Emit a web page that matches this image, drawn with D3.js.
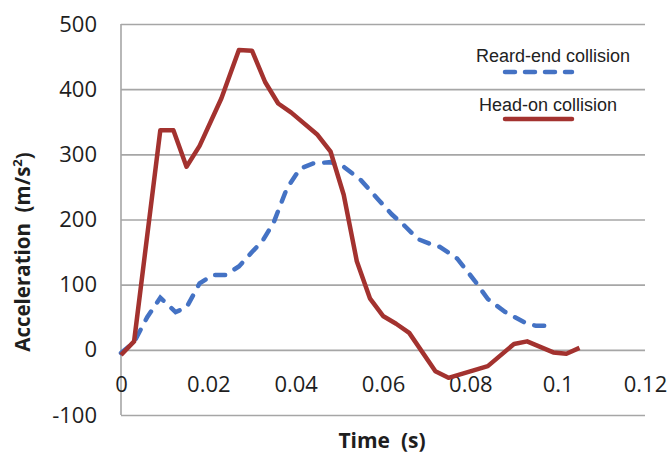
<!DOCTYPE html>
<html>
<head>
<meta charset="utf-8">
<script src="https://cdn.jsdelivr.net/npm/d3@7"></script>
<style>
  body { margin: 0; background: #fff; }
  svg { display: block; }
  .tick text { font-family: "Open Sans", sans-serif; font-size: 22px; fill: #1e1e1e; }
</style>
</head>
<body>
<svg id="chart" width="670" height="455"></svg>
<script>
// values
var xTicks = [0, 0.02, 0.04, 0.06, 0.08, 0.1, 0.12];
var yTicks = [-100, 0, 100, 200, 300, 400, 500];

var rearTime = [0, 0.003, 0.006, 0.009, 0.0125, 0.015, 0.018, 0.021, 0.024, 0.027, 0.03, 0.0325, 0.035, 0.038,
                0.041, 0.044, 0.048, 0.051, 0.055, 0.059, 0.062, 0.065, 0.068, 0.071, 0.073, 0.077, 0.081,
                0.084, 0.088, 0.093, 0.095, 0.098];
var rearAcc  = [-5, 12, 50, 80, 58, 65, 102, 115, 115, 128, 150, 168, 196, 248,
                278, 286, 288, 281, 260, 230, 208, 190, 170, 162, 158, 140, 106,
                78, 58, 40, 37, 37];

var headTime = [0, 0.003, 0.009, 0.012, 0.015, 0.018, 0.023, 0.027, 0.030, 0.033, 0.036, 0.039, 0.045, 0.048,
                0.051, 0.054, 0.057, 0.060, 0.063, 0.066, 0.072, 0.075, 0.084, 0.090, 0.093, 0.099, 0.102, 0.105];
var headAcc  = [-8, 13, 337, 337, 281, 313, 386, 460, 459, 411, 378, 364, 330, 304,
                238, 136, 79, 52, 40, 26, -33, -43, -25, 9, 13, -4, -6, 3];

var seriesNames = ["Reard-end collision", "Head-on collision"];
var seriesColors = ["#4472C4", "#A3322F"];

var svg = d3.select("#chart");
var x = d3.scaleLinear().domain([0, 0.12]).range([121, 645]);
var y = d3.scaleLinear().domain([-100, 500]).range([415, 24]);

// gridlines
svg.append("g")
  .attr("transform", "translate(121,0)")
  .call(d3.axisLeft(y).tickValues(yTicks).tickSize(-(645 - 121)).tickFormat(""))
  .call(function(g){ g.select(".domain").remove(); })
  .selectAll("line").attr("stroke", "#a6a6a6").attr("stroke-width", 1.6);

// vertical axis line
svg.append("line")
  .attr("x1", x(0)).attr("x2", x(0))
  .attr("y1", y(500)).attr("y2", y(-100))
  .attr("stroke", "#a6a6a6").attr("stroke-width", 1.6);

// y tick labels
svg.append("g")
  .attr("transform", "translate(121,0)")
  .call(d3.axisLeft(y).tickValues(yTicks).tickSize(0).tickPadding(24).tickFormat(function(d){ return String(d); }))
  .call(function(g){ g.select(".domain").remove(); });

// x tick labels, hanging below the zero line like excel does
svg.append("g")
  .attr("transform", "translate(0," + y(0) + ")")
  .call(d3.axisBottom(x).tickValues(xTicks).tickSize(0).tickPadding(27).tickFormat(function(d){ return String(+d.toFixed(2)); }))
  .call(function(g){ g.select(".domain").remove(); });

var line = d3.line()
  .x(function(d){ return x(d[0]); })
  .y(function(d){ return y(d[1]); });

var rear = d3.zip(rearTime, rearAcc);
var head = d3.zip(headTime, headAcc);

svg.append("path")
  .datum(rear)
  .attr("d", line)
  .attr("fill", "none")
  .attr("stroke", seriesColors[0])
  .attr("stroke-width", 4.5)
  .attr("stroke-dasharray", "10,11")
  .attr("stroke-linecap", "round");

svg.append("path")
  .datum(head)
  .attr("d", line)
  .attr("fill", "none")
  .attr("stroke", seriesColors[1])
  .attr("stroke-width", 4.5)
  .attr("stroke-linejoin", "round");

// legend
var legend = svg.append("g").attr("font-family", "Liberation Sans, Arial, sans-serif").attr("font-size", 18);
seriesNames.forEach(function(name, i){
  var ty = 56 + i * 49;
  legend.append("text")
    .attr("x", 553 - i * 5).attr("y", ty)
    .attr("dy", "0.35em")
    .attr("text-anchor", "middle")
    .attr("fill", "#222")
    .text(name);
  legend.append("line")
    .attr("x1", 505).attr("x2", 572)
    .attr("y1", ty + 16 - i * 2).attr("y2", ty + 16 - i * 2)
    .attr("stroke", seriesColors[i])
    .attr("stroke-width", 4.5)
    .attr("stroke-linecap", "round")
    .attr("stroke-dasharray", i === 0 ? "10,10" : null);
});

// axis titles
svg.append("text")
  .attr("x", 382).attr("y", 441)
  .attr("dy", "0.35em")
  .attr("text-anchor", "middle")
  .attr("font-family", "Open Sans, sans-serif")
  .attr("font-weight", "bold")
  .attr("font-size", 21)
  .attr("fill", "#1e1e1e")
  .attr("xml:space", "preserve")
  .text("Time  (s)");

var yt = svg.append("text")
  .attr("transform", "translate(23,252) rotate(-90)")
  .attr("dy", "0.35em")
  .attr("text-anchor", "middle")
  .attr("font-family", "Open Sans, sans-serif")
  .attr("font-weight", "bold")
  .attr("font-size", 20.5)
  .attr("fill", "#1e1e1e")
  .attr("xml:space", "preserve");
yt.append("tspan").text("Acceleration  (m/s");
yt.append("tspan").attr("font-size", 13).attr("dy", "-0.6em").text("2");
yt.append("tspan").attr("dy", "0.4em").text(")");
</script>
</body>
</html>
